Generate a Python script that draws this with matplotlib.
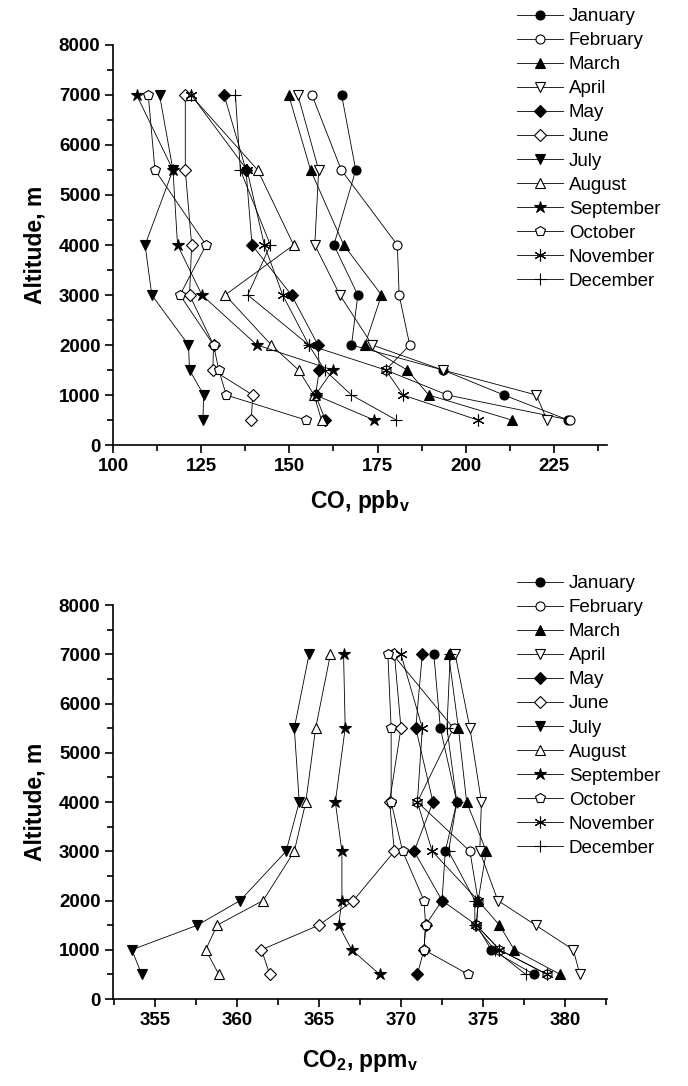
import numpy as np
import matplotlib
matplotlib.use("Agg")
import matplotlib.pyplot as plt
from matplotlib.ticker import MultipleLocator

plt.rcParams['font.family'] = ['Liberation Sans', 'DejaVu Sans']
plt.rcParams['mathtext.fontset'] = 'custom'
plt.rcParams['mathtext.rm'] = 'Liberation Sans'
plt.rcParams['mathtext.bf'] = 'Liberation Sans:bold'

# ============================================
# DATA
# ============================================

months = ['January', 'February', 'March', 'April', 'May', 'June',
          'July', 'August', 'September', 'October', 'November', 'December']
altitude = [500, 1000, 1500, 2000, 3000, 4000, 5500, 7000]

# CO, ppbv (500 m ... 7000 m)
co_jan = [229.0, 210.8, 193.5, 167.6, 169.4, 162.6, 168.8, 164.8]
co_feb = [229.5, 194.8, 177.3, 184.1, 181.1, 180.6, 164.7, 156.4]
co_mar = [213.0, 189.5, 183.4, 171.4, 176.1, 165.4, 156.0, 149.8]
co_apr = [223.0, 220.0, 193.5, 173.5, 164.3, 157.2, 158.3, 152.4]
co_may = [160.2, 157.4, 158.5, 158.1, 150.6, 139.4, 137.7, 131.5]
co_jun = [139.2, 139.6, 128.3, 128.5, 121.7, 122.3, 120.5, 120.5]
co_jul = [125.5, 125.7, 121.7, 121.4, 111.0, 109.1, 117.0, 113.2]
co_aug = [159.1, 157.0, 152.6, 144.9, 131.8, 151.2, 141.0, 122.0]
co_sep = [174.0, 157.4, 162.3, 140.8, 125.2, 118.3, 117.0, 106.7]
co_oct = [154.7, 132.1, 130.0, 128.5, 119.0, 126.4, 111.9, 110.0]
co_nov = [203.4, 182.2, 177.3, 155.5, 148.1, 142.9, 138.0, 122.2]
co_dec = [180.3, 167.6, 160.0, 155.5, 138.2, 144.6, 136.1, 134.7]

# CO2, ppmv (500 m ... 7000 m)
co2_jan = [378.1, 375.5, 374.6, 372.5, 372.7, 373.4, 372.4, 372.0]
co2_feb = [378.9, 376.0, 374.6, 374.7, 374.2, 371.0, 373.2, 369.5]
co2_mar = [379.7, 376.9, 376.0, 374.7, 375.2, 374.0, 373.5, 372.9]
co2_apr = [380.9, 380.5, 378.2, 375.9, 374.8, 374.9, 374.2, 373.3]
co2_may = [371.0, 371.4, 371.5, 372.5, 370.8, 371.95, 370.9, 371.3]
co2_jun = [362.0, 361.5, 365.0, 367.1, 369.6, 369.3, 370.0, 369.6]
co2_jul = [354.2, 353.6, 357.6, 360.2, 363.0, 363.8, 363.5, 364.4]
co2_aug = [358.9, 358.1, 358.8, 361.6, 363.5, 364.2, 364.8, 365.7]
co2_sep = [368.7, 367.0, 366.2, 366.4, 366.4, 366.0, 366.6, 366.5]
co2_oct = [374.1, 371.4, 371.5, 371.4, 370.1, 369.4, 369.4, 369.2]
co2_nov = [378.9, 376.0, 374.6, 374.7, 371.9, 371.0, 371.3, 370.0]
co2_dec = [377.6, 375.7, 374.5, 374.5, 372.9, 373.4, 372.8, 373.0]

co_series = [co_jan, co_feb, co_mar, co_apr, co_may, co_jun,
             co_jul, co_aug, co_sep, co_oct, co_nov, co_dec]
co2_series = [co2_jan, co2_feb, co2_mar, co2_apr, co2_may, co2_jun,
              co2_jul, co2_aug, co2_sep, co2_oct, co2_nov, co2_dec]

# marker, filled?, size
styles = [('o', True, 6.5), ('o', False, 6.5), ('^', True, 7.5), ('v', False, 7.5),
          ('D', True, 6.0), ('D', False, 6.0), ('v', True, 7.5), ('^', False, 7.5),
          ('*', True, 9.0), ('p', False, 7.5), ((6, 2, 0), True, 8.5), ('+', True, 8.5)]


def draw(ax, series, xlim, major, minor, xlabel, xpad):
    for name, vals, (mk, filled, ms) in zip(months, series, styles):
        ax.plot(vals, altitude, color='black', lw=0.6, marker=mk, ms=ms,
                mfc='black' if filled else 'white', mec='black', mew=0.8,
                label=name)
    ax.set_xlim(*xlim)
    ax.set_ylim(0, 8000)
    ax.xaxis.set_major_locator(MultipleLocator(major))
    ax.xaxis.set_minor_locator(MultipleLocator(minor))
    ax.yaxis.set_major_locator(MultipleLocator(1000))
    ax.yaxis.set_minor_locator(MultipleLocator(500))
    ax.spines['top'].set_visible(False)
    ax.spines['right'].set_visible(False)
    for s in ['left', 'bottom']:
        ax.spines[s].set_linewidth(1.2)
    ax.tick_params(which='major', direction='out', length=6, width=1.2,
                   labelsize=13.5, pad=3)
    ax.tick_params(which='minor', direction='out', length=4, width=1.2)
    for lab in ax.get_xticklabels() + ax.get_yticklabels():
        lab.set_fontweight('bold')
    ax.set_ylabel('Altitude, m', fontsize=16.5, fontweight='bold', labelpad=9)
    ax.set_xlabel(xlabel, fontsize=16.5, fontweight='bold', labelpad=xpad)


def add_legend(ax, top):
    ax.legend(loc='upper left', bbox_to_anchor=(0.751, top),
              bbox_transform=fig.transFigure, frameon=False, fontsize=13.5,
              handlelength=2.45, handletextpad=0.32, labelspacing=0.37,
              borderpad=0, borderaxespad=0)


fig = plt.figure(figsize=(6.88, 10.86), dpi=100)

ax1 = fig.add_axes([0.1642, 0.5902, 0.718, 0.3684])
draw(ax1, co_series, (100, 240), 25, 12.5, r'CO, ppb$_\mathbf{v}$', 10)
add_legend(ax1, 0.9926)

ax2 = fig.add_axes([0.1642, 0.0801, 0.718, 0.3628])
draw(ax2, co2_series, (352.45, 382.55), 5, 2.5,
     r'CO$_\mathbf{2}$, ppm$_\mathbf{v}$', 14)
add_legend(ax2, 0.4705)

fig.savefig('out.png', dpi=100)
